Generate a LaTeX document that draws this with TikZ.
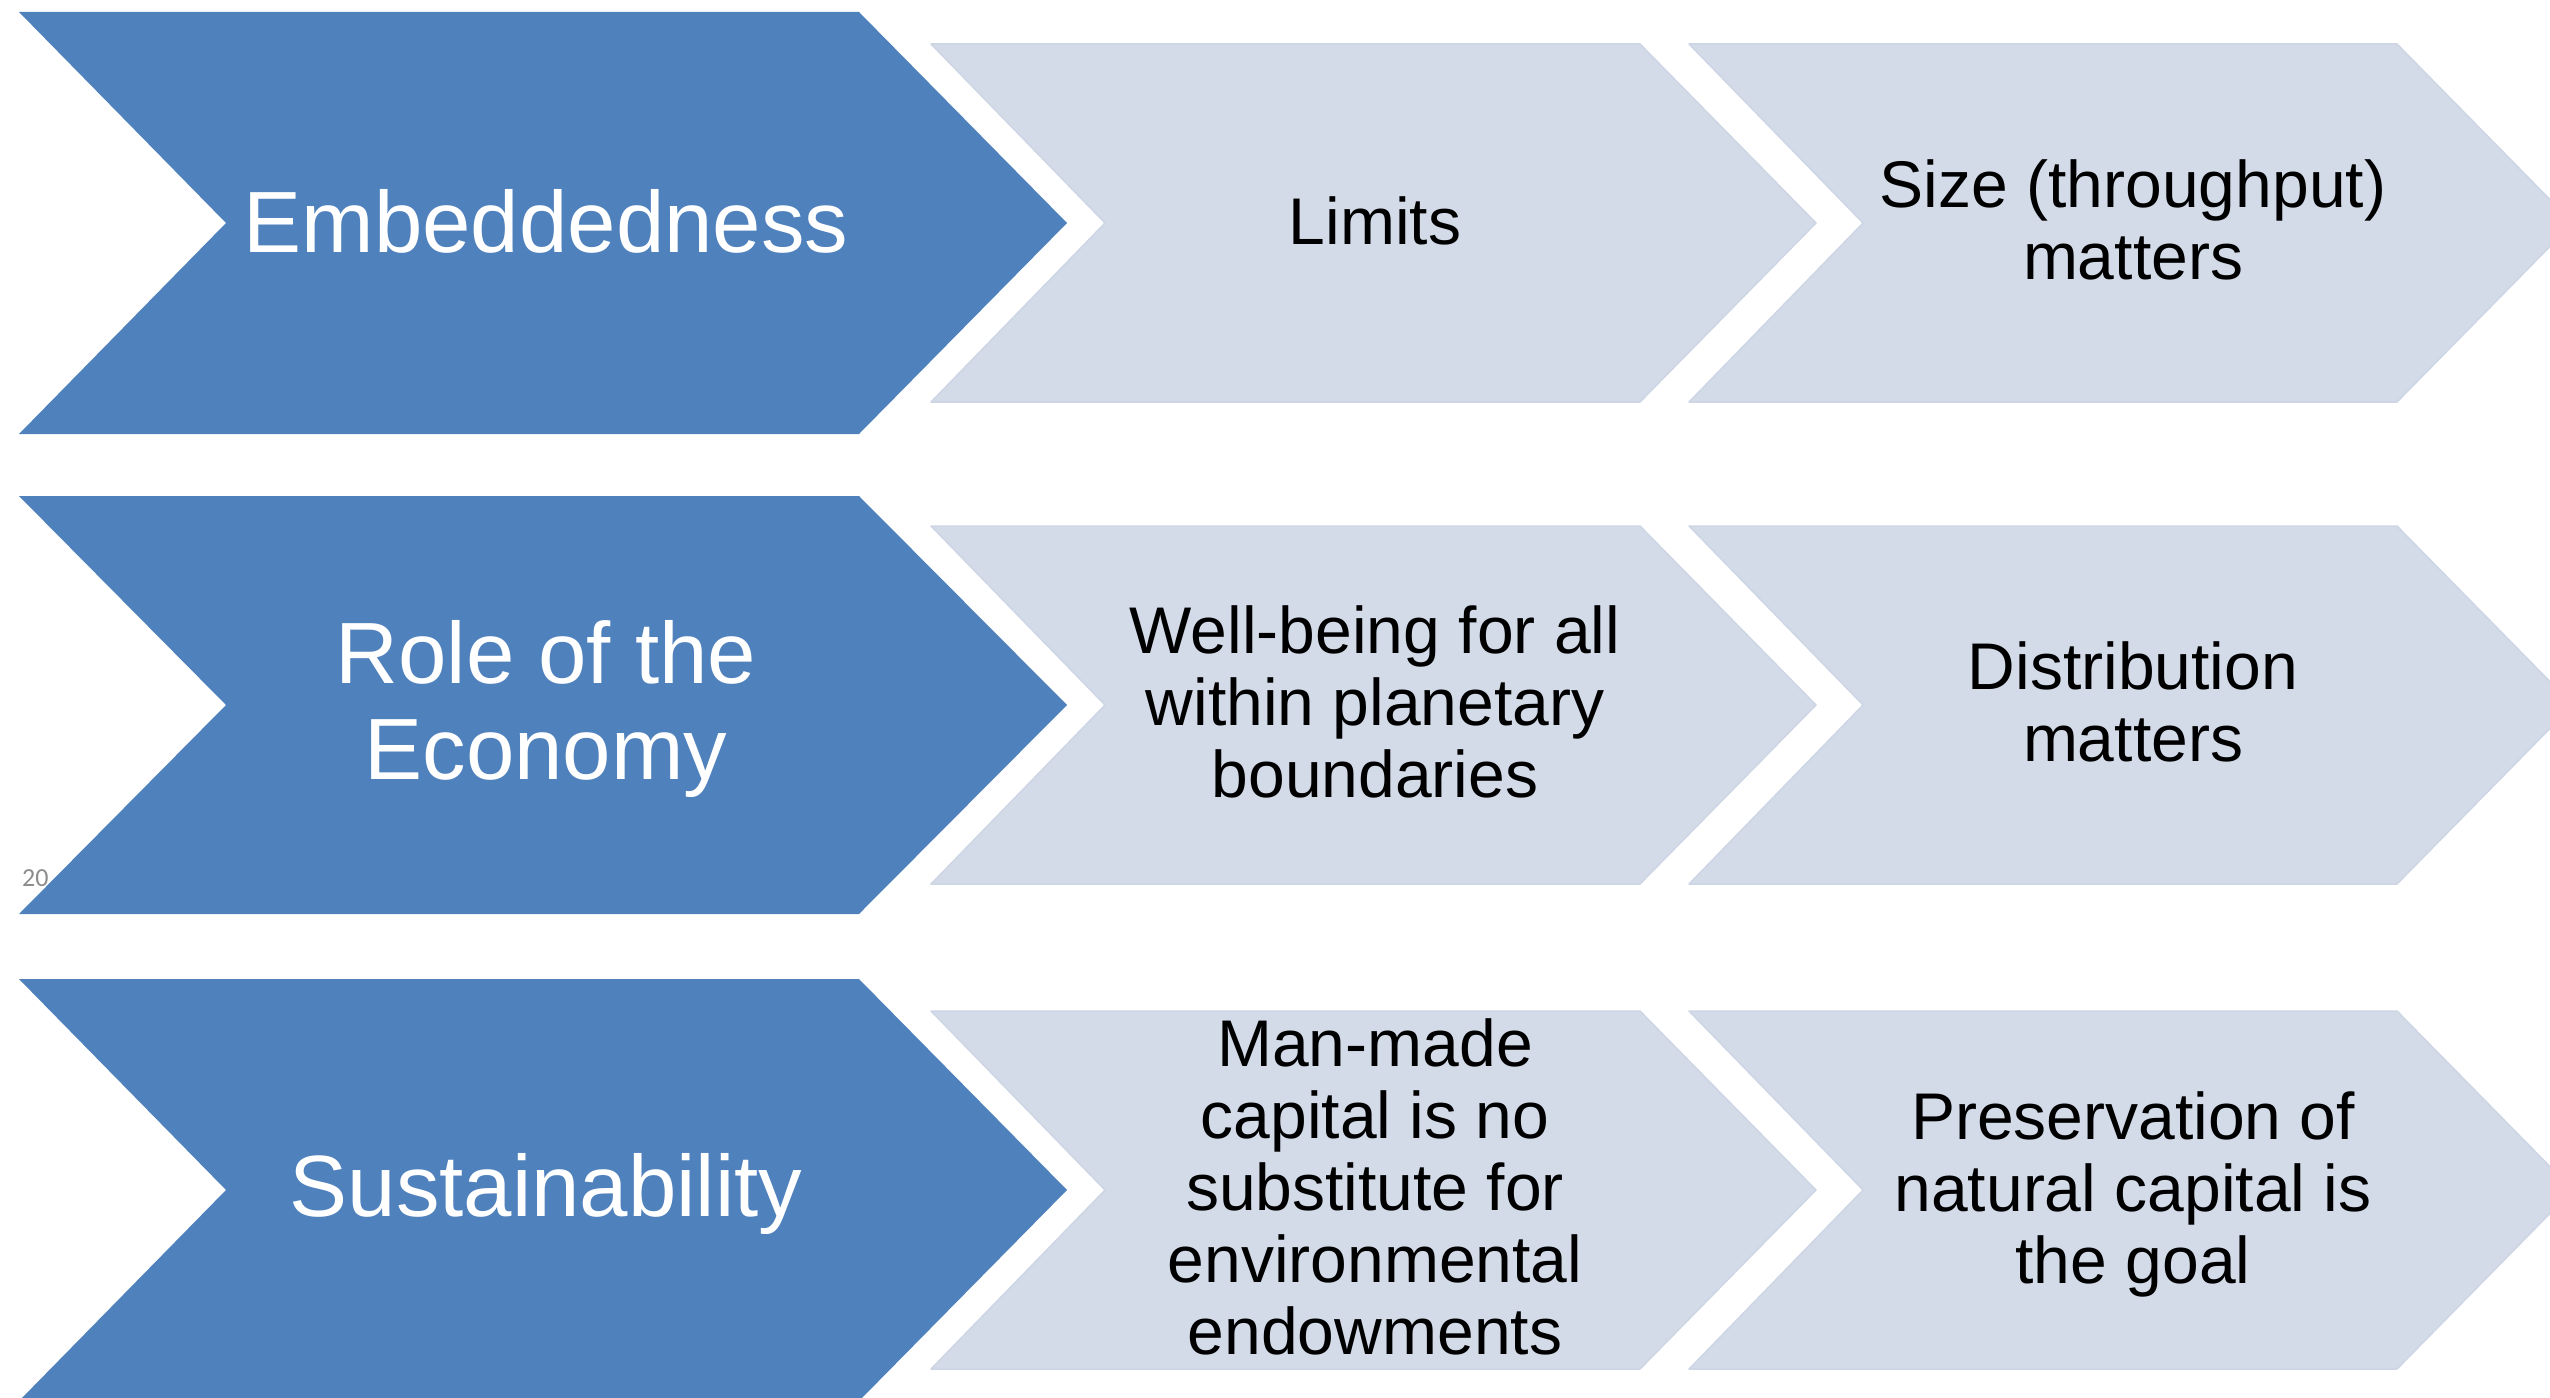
\documentclass[tikz,border=0pt]{standalone}
\usepackage{fontspec}
\setmainfont{Liberation Sans}
\newfontfamily\slidefont{Carlito}
\definecolor{chevdark}{HTML}{4F81BD}
\definecolor{chevlight}{HTML}{D3DAE8}
\definecolor{chevlightedge}{HTML}{CED6E5}
\definecolor{slidegrey}{HTML}{8C8C8C}
\begin{document}
\begin{tikzpicture}[x=1pt,y=-1pt,
  darkchev/.style={fill=chevdark, draw=none},
  lightchev/.style={fill=chevlight, draw=chevlightedge, line width=1.5pt, line join=round},
  headtext/.style={text=white, font=\fontsize{87}{96}\selectfont, align=center, inner sep=0pt},
  bodytext/.style={text=black, font=\fontsize{66}{72}\selectfont, align=center, inner sep=0pt},
  numtext/.style={text=slidegrey, font=\slidefont\fontsize{26}{30}\selectfont, inner sep=0pt, anchor=base west}]
\useasboundingbox (0,0) rectangle (2550,1397);
\clip (0,0) rectangle (2550,1397);

% slide number fragment, partly hidden behind the second row
\node[numtext] (num) at (22,886) {20};

% chevrons
\foreach \cy/\hh in {223/211,705/209,1190/211}{
  \fill[darkchev] (19,\cy-\hh) -- (859,\cy-\hh) -- (1067,\cy) -- (859,\cy+\hh) -- (19,\cy+\hh) -- (226,\cy) -- cycle;
  \filldraw[lightchev] (931,\cy-179) -- (1640,\cy-179) -- (1816,\cy) -- (1640,\cy+179) -- (931,\cy+179) -- (1105,\cy) -- cycle;
  \filldraw[lightchev] (1689,\cy-179) -- (2397,\cy-179) -- (2573,\cy) -- (2397,\cy+179) -- (1689,\cy+179) -- (1863,\cy) -- cycle;
}

% row 1
\node[headtext] (h1) at (546,221) {Embeddedness};
\node[bodytext] (a1) at (1375,221) {Limits};
\node[bodytext] (b1) at (2133,220) {Size (throughput)\\matters};

% row 2
\node[headtext] (h2) at (546,709) {Role of the\\Economy};
\node[bodytext] (a2) at (1375,702) {Well-being for all\\within planetary\\boundaries};
\node[bodytext] (b2) at (2133,702) {Distribution\\matters};

% row 3
\node[headtext] (h3) at (546,1194) {Sustainability};
\node[bodytext] (a3) at (1375,1187) {Man-made\\capital is no\\substitute for\\environmental\\endowments};
\node[bodytext] (b3) at (2133,1194) {Preservation of\\natural capital is\\the goal};
\end{tikzpicture}
\end{document}
